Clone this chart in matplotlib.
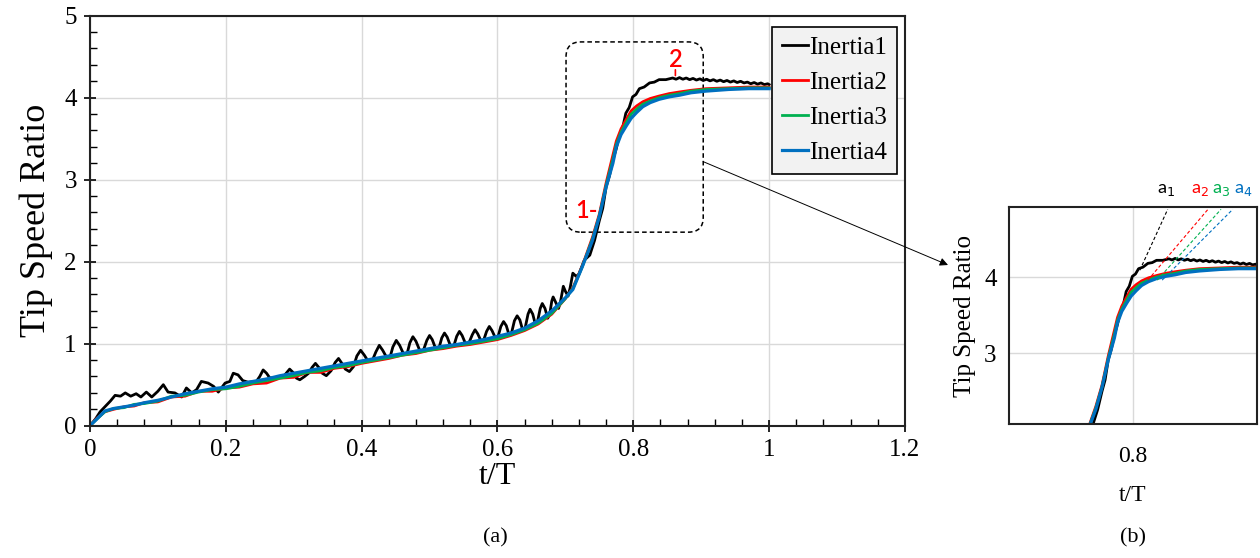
import matplotlib
matplotlib.use("Agg")
import matplotlib.pyplot as plt
from matplotlib.patches import FancyBboxPatch

# ---- data ----
t_in1 = [0, 0.008, 0.015, 0.022, 0.03, 0.037, 0.045, 0.052, 0.06, 0.068, 0.075, 0.083, 0.091, 0.1,
         0.108, 0.115, 0.125, 0.135, 0.142, 0.150, 0.157, 0.164, 0.174, 0.182, 0.189, 0.199, 0.206,
         0.211, 0.218, 0.225,
         0.233, 0.245, 0.25, 0.255, 0.26, 0.265, 0.275, 0.285, 0.29, 0.294, 0.299, 0.304, 0.309,
         0.316, 0.322, 0.327, 0.332, 0.337, 0.342, 0.348, 0.355, 0.361, 0.366, 0.371, 0.376, 0.382,
         0.388, 0.393, 0.3985, 0.404, 0.41, 0.416, 0.421, 0.426, 0.431, 0.437, 0.442, 0.446, 0.451,
         0.456, 0.462, 0.467, 0.471, 0.4755, 0.48, 0.486, 0.491, 0.496, 0.500, 0.504, 0.509, 0.514,
         0.518, 0.522, 0.526, 0.531, 0.536, 0.540, 0.544, 0.548, 0.553, 0.558, 0.563, 0.567, 0.571,
         0.576, 0.580, 0.584, 0.588, 0.592, 0.597, 0.601, 0.605, 0.609, 0.613, 0.617, 0.621, 0.625,
         0.629, 0.633, 0.637, 0.641, 0.645, 0.648, 0.652, 0.656, 0.659, 0.663, 0.666, 0.670, 0.674,
         0.677, 0.680, 0.682, 0.686, 0.690, 0.693, 0.697, 0.700, 0.704, 0.707, 0.711, 0.716, 0.72,
         0.728, 0.736, 0.743, 0.75, 0.755, 0.76, 0.765, 0.77, 0.775, 0.779, 0.784, 0.789, 0.794,
         0.799, 0.804, 0.809, 0.816, 0.824, 0.831, 0.838, 0.848, 0.858,
         0.863, 0.868, 0.873, 0.878, 0.883, 0.888, 0.893, 0.898, 0.903, 0.908, 0.913, 0.918, 0.923,
         0.928, 0.933, 0.938, 0.943, 0.948, 0.953, 0.958, 0.963, 0.968, 0.973, 0.978, 0.983, 0.988,
         0.993, 0.998, 1.0]
tsr_in1 = [0, 0.08, 0.17, 0.23, 0.30, 0.37, 0.36, 0.40, 0.36, 0.39, 0.35, 0.41, 0.35, 0.42,
           0.50, 0.41, 0.40, 0.35, 0.46, 0.40, 0.44, 0.54, 0.52, 0.48, 0.41, 0.52, 0.54,
           0.64, 0.62, 0.55,
           0.53, 0.54, 0.60, 0.68, 0.64, 0.58, 0.59, 0.60, 0.65, 0.69, 0.65, 0.58, 0.56,
           0.60, 0.64, 0.71, 0.76, 0.71, 0.64, 0.61, 0.67, 0.77, 0.82, 0.76, 0.69, 0.66,
           0.72, 0.85, 0.92, 0.86, 0.78, 0.80, 0.90, 0.98, 0.92, 0.83, 0.84, 0.96, 1.04,
           0.98, 0.87, 0.88, 1.01, 1.085, 1.03, 0.91, 0.92, 1.04, 1.10, 1.05, 0.94, 0.95,
           1.07, 1.13, 1.08, 0.97, 0.98, 1.09, 1.15, 1.10, 1.00, 1.01, 1.11, 1.17, 1.12,
           1.03, 1.05, 1.15, 1.21, 1.16, 1.07, 1.09, 1.21, 1.27, 1.22, 1.11, 1.14, 1.28,
           1.34, 1.29, 1.17, 1.20, 1.36, 1.42, 1.36, 1.23, 1.27, 1.43, 1.49, 1.43, 1.31,
           1.36, 1.52, 1.57, 1.50, 1.43, 1.52, 1.70, 1.64, 1.58, 1.68, 1.86, 1.82, 1.85,
           2.02, 2.08, 2.26, 2.50, 2.65, 2.91, 3.05, 3.24, 3.38, 3.52, 3.62, 3.81, 3.88,
           4.01, 4.04, 4.11, 4.13, 4.18, 4.19, 4.22, 4.22, 4.24,
           4.225, 4.245, 4.225, 4.24, 4.22, 4.235, 4.215, 4.23, 4.21, 4.225, 4.205, 4.22, 4.20,
           4.215, 4.195, 4.21, 4.19, 4.205, 4.185, 4.20, 4.18, 4.19, 4.17, 4.185, 4.165, 4.18,
           4.16, 4.17, 4.16]

t_smooth = [0, 0.01, 0.022, 0.035, 0.05, 0.065, 0.08, 0.1, 0.12, 0.14, 0.16, 0.18, 0.2, 0.22,
            0.24, 0.26, 0.28, 0.3, 0.32, 0.34, 0.36, 0.38, 0.40, 0.42, 0.44, 0.46, 0.48, 0.50,
            0.52, 0.54, 0.56, 0.58, 0.6, 0.62, 0.64, 0.66, 0.68, 0.70, 0.711, 0.725, 0.74, 0.75,
            0.76, 0.77, 0.775, 0.782, 0.79, 0.797, 0.805, 0.814, 0.825, 0.838, 0.853, 0.868,
            0.885, 0.907, 0.94, 0.97, 1.0]
tsr_in2 = [0, 0.09, 0.17, 0.20, 0.23, 0.24, 0.28, 0.29, 0.35, 0.36, 0.42, 0.42, 0.46, 0.47,
           0.51, 0.52, 0.58, 0.59, 0.65, 0.65, 0.70, 0.72, 0.76, 0.79, 0.82, 0.86, 0.88, 0.92,
           0.94, 0.97, 0.99, 1.02, 1.05, 1.10, 1.16, 1.24, 1.36, 1.55, 1.68, 1.95, 2.30, 2.58,
           2.96, 3.30, 3.47, 3.62, 3.74, 3.84, 3.90, 3.95, 3.99, 4.02, 4.05, 4.07,
           4.09, 4.11, 4.12, 4.13, 4.13]
tsr_in3 = [0, 0.08, 0.17, 0.21, 0.22, 0.26, 0.27, 0.30, 0.36, 0.37, 0.41, 0.44, 0.45, 0.48,
           0.52, 0.55, 0.58, 0.61, 0.65, 0.67, 0.71, 0.73, 0.77, 0.80, 0.83, 0.86, 0.89, 0.92,
           0.95, 0.98, 1.00, 1.03, 1.06, 1.11, 1.17, 1.25, 1.37, 1.55, 1.67, 1.94, 2.28, 2.56,
           2.93, 3.25, 3.43, 3.58, 3.70, 3.80, 3.86, 3.92, 3.96, 4.00, 4.03, 4.05,
           4.08, 4.10, 4.11, 4.12, 4.12]
tsr_in4 = [0, 0.08, 0.18, 0.21, 0.23, 0.25, 0.28, 0.31, 0.35, 0.39, 0.42, 0.45, 0.47, 0.51,
           0.54, 0.57, 0.61, 0.64, 0.67, 0.70, 0.73, 0.76, 0.79, 0.82, 0.85, 0.88, 0.91, 0.94,
           0.97, 0.99, 1.02, 1.05, 1.09, 1.13, 1.19, 1.28, 1.40, 1.56, 1.66, 1.94, 2.26, 2.55,
           2.91, 3.20, 3.40, 3.55, 3.66, 3.75, 3.82, 3.89, 3.94, 3.98, 4.01, 4.03,
           4.06, 4.08, 4.10, 4.11, 4.11]

series = [("Inertia1", t_in1, tsr_in1, "black"),
          ("Inertia2", t_smooth, tsr_in2, "#ff0000"),
          ("Inertia3", t_smooth, tsr_in3, "#00b050"),
          ("Inertia4", t_smooth, tsr_in4, "#0070c0")]

# tangent (slope) lines in the zoomed panel: start and end points
slope_t0 = [0.811, 0.824, 0.839, 0.847]
slope_y0 = [4.09, 3.96, 3.96, 3.96]
slope_t1 = [0.856, 0.921, 0.942, 0.961]
slope_y1 = [4.89, 4.89, 4.89, 4.89]
slope_names = ["a$_1$", "a$_2$", "a$_3$", "a$_4$"]
slope_label_t = [0.853, 0.908, 0.942, 0.977]

serif = "Liberation Serif"
sans = "Lato"

fig = plt.figure(figsize=(12.6, 5.58), dpi=100)
ax = fig.add_axes([0.0714, 0.2371, 0.6468, 0.7348])
ax2 = fig.add_axes([0.8008, 0.2401, 0.1968, 0.3889])

for name, t, v, c in series:
    ax.plot(t, v, color=c, lw=2.0 if name != "Inertia4" else 2.3, label=name)
    ax2.plot(t, v, color=c, lw=2.0 if name != "Inertia4" else 2.3)

ax.set_xlim(0, 1.2)
ax.set_ylim(0, 5)
ax.set_xticks([0, 0.2, 0.4, 0.6, 0.8, 1.0, 1.2])
ax.set_xticklabels(["0", "0.2", "0.4", "0.6", "0.8", "1", "1.2"])
ax.set_yticks([0, 1, 2, 3, 4, 5])
ax.set_xticks([i * 0.04 for i in range(31)], minor=True)
ax.set_yticks([i * 0.2 for i in range(26)], minor=True)
ax.grid(True, which="major", color="#d9d9d9", lw=1.0)
ax.set_axisbelow(True)
ax.tick_params(which="major", direction="inout", length=9, width=1.2, labelsize=18, pad=5,
               top=False, right=False)
ax.tick_params(which="minor", direction="in", length=5, width=1.0, top=False, right=False)
for lab in ax.get_xticklabels() + ax.get_yticklabels():
    lab.set_fontfamily(serif)
for s in ax.spines.values():
    s.set_linewidth(1.5)
    s.set_color("#222222")
ax.set_xlabel("t/T", fontsize=23, family=serif, labelpad=1)
ax.set_ylabel("Tip Speed Ratio", fontsize=26, family=serif, labelpad=8)

leg = ax.legend(loc="upper right", bbox_to_anchor=(0.990, 0.972), borderaxespad=0,
                prop={"family": serif, "size": 18}, fancybox=False, edgecolor="black",
                facecolor="#f2f2f2", framealpha=1, handlelength=1.05, handletextpad=0.05,
                labelspacing=0.5, borderpad=0.38)
leg.get_frame().set_linewidth(1.2)

# dashed rounded box around the zoomed region
box = FancyBboxPatch((0.701, 2.36), 0.202, 2.32,
                     boxstyle="round,pad=0,rounding_size=0.022", mutation_aspect=8.2,
                     fill=False, ec="black", lw=1.1, ls=(0, (3, 2)))
ax.add_patch(box)
ax.text(0.731, 2.62, "1-", color="red", fontsize=17, family=sans, fontweight="semibold",
        ha="center", va="center")
ax.text(0.862, 4.47, "2", color="red", fontsize=17, family=sans, fontweight="semibold",
        ha="center", va="center")
ax.annotate("", xy=(0.862, 4.27), xytext=(0.862, 4.34),
            arrowprops=dict(arrowstyle="-", color="red", lw=1.2, shrinkA=0, shrinkB=0))
ax.annotate("", xy=(948 / 1260, 1 - 265 / 558), xycoords="figure fraction",
            xytext=(0.903, 3.22), textcoords="data",
            arrowprops=dict(arrowstyle="-|>", color="black", lw=0.7, mutation_scale=12,
                            shrinkA=0, shrinkB=0))

# zoomed panel
ax2.set_xlim(0.6, 1.0)
ax2.set_ylim(2.07, 4.92)
ax2.set_xticks([0.8])
ax2.set_xticklabels(["0.8"])
ax2.set_yticks([3, 4])
ax2.grid(True, color="#d9d9d9", lw=1.0)
ax2.set_axisbelow(True)
ax2.tick_params(axis="x", length=0, labelsize=17, pad=16)
ax2.tick_params(axis="y", length=0, labelsize=18, pad=9)
for lab in ax2.get_xticklabels() + ax2.get_yticklabels():
    lab.set_fontfamily(serif)
for s in ax2.spines.values():
    s.set_linewidth(1.5)
    s.set_color("#222222")
ax2.set_xlabel("t/T", fontsize=17, family=serif, labelpad=13)
ax2.set_ylabel("Tip Speed Ratio", fontsize=18, family=serif, labelpad=6)
for k in range(4):
    c = series[k][3]
    ax2.plot([slope_t0[k], slope_t1[k]], [slope_y0[k], slope_y1[k]], color=c, lw=0.8,
             ls=(0, (3, 2)))
    ax2.text(slope_label_t[k], 5.14, slope_names[k], color=c, fontsize=13, family=sans,
             ha="center", va="center", clip_on=False)

fig.text(495 / 1260, 1 - 538 / 558, "(a)", fontsize=16, family=serif, ha="center", va="center")
fig.text(1133 / 1260, 1 - 538 / 558, "(b)", fontsize=16, family=serif, ha="center", va="center")

fig.savefig("out.png", dpi=100)
